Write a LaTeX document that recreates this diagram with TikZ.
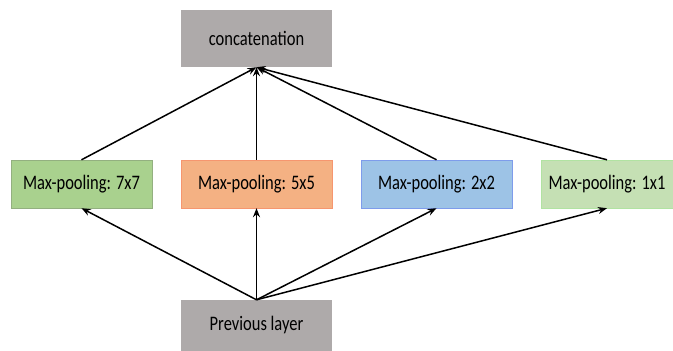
\documentclass[tikz,border=0pt]{standalone}
\usepackage{fontspec}
\setmainfont{Carlito}
\usetikzlibrary{arrows.meta}

\definecolor{boxgray}{HTML}{AEAAAA}
\definecolor{poolgreen}{HTML}{A9D18E}
\definecolor{poolorange}{HTML}{F4B183}
\definecolor{poolblue}{HTML}{9DC3E6}
\definecolor{poollight}{HTML}{C5E0B4}

% text in the picture is a bit taller than wide
\newcommand{\talltext}[1]{\scalebox{1}[1.25]{#1}}

\tikzset{
	layerbox/.style={fill=boxgray, minimum width=151pt, minimum height=57pt, inner sep=0pt, font=\fontsize{16.5}{20}\selectfont},
	poolbox/.style={minimum height=48pt, inner sep=0pt, font=\fontsize{16.5}{20}\selectfont},
	link/.style={->, line width=1.5pt}
}

\begin{document}
\begin{tikzpicture}[x=1pt,y=1pt,>={Stealth[length=9pt,width=7pt]}]
		\useasboundingbox (0,0) rectangle (673,351);
		% layers
		\node[layerbox] (concat) at (256.5,312.5) {\talltext{concatenation}};
		\node[layerbox, minimum height=51pt] (prev) at (256.5,25.5) {\talltext{Previous layer}};
		% pooling branches
		\node[poolbox, fill=poolgreen, draw=poolgreen!80!black!90, minimum width=141pt] (mp7) at (81.5,167) {\talltext{Max-pooling: 7x7}};
		\node[poolbox, fill=poolorange, draw=poolorange!85!red, minimum width=151pt] (mp5) at (256.5,167) {\talltext{Max-pooling: 5x5}};
		\node[poolbox, fill=poolblue, draw=poolblue!80!blue, minimum width=151pt] (mp2) at (436.5,167) {\talltext{Max-pooling: 2x2}};
		\node[poolbox, fill=poollight, draw=poollight!90!green, minimum width=132pt] (mp1) at (607,167) {\talltext{Max-pooling: 1x1}};
		% input to branches
		\draw[link] (prev.north) -- (mp7.south);
		\draw[link] (prev.north) -- (mp5.south);
		\draw[link] (prev.north) -- (mp2.south);
		\draw[link] (prev.north) -- (mp1.south);
		% branches to concatenation
		\draw[link] (mp7.north) -- (concat.south);
		\draw[link] (mp5.north) -- (concat.south);
		\draw[link] (mp2.north) -- (concat.south);
		\draw[link] (mp1.north) -- (concat.south);
	\end{tikzpicture}
\end{document}
